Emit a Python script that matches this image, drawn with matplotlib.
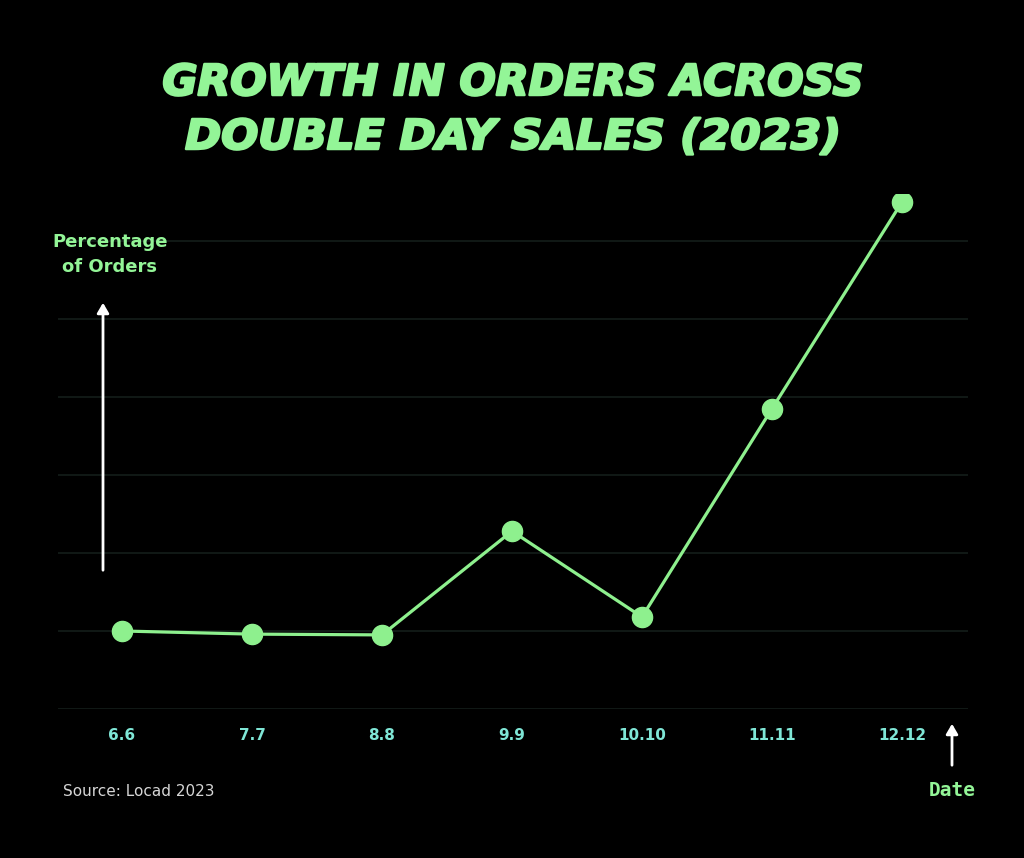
import numpy as np
import matplotlib
matplotlib.use("Agg")
import matplotlib.pyplot as plt
from matplotlib.textpath import TextPath
from matplotlib.font_manager import FontProperties
from matplotlib.patches import PathPatch, FancyArrowPatch
from matplotlib.transforms import Affine2D

# data (unitless scale: one gridline = 1)
dates = ["6.6", "7.7", "8.8", "9.9", "10.10", "11.11", "12.12"]
orders = [1.0, 0.96, 0.95, 2.28, 1.18, 3.85, 6.5]
title_lines = ["GROWTH IN ORDERS ACROSS", "DOUBLE DAY SALES (2023)"]

BG = "#000000"
GREEN = "#93f597"
LINE = "#8ef08e"
TICK = "#7fe6d6"
GRID = "#141d1a"

W, H = 1024, 858
fig = plt.figure(figsize=(W / 100, H / 100), dpi=100, facecolor=BG)

# overlay axes in pixel coords (y up) for the title paths
ov = fig.add_axes([0, 0, 1, 1])
ov.set_xlim(0, W)
ov.set_ylim(0, H)
ov.axis("off")

# axes placed in pixel coords
x0, x1 = 58, 968
y_bot, y_top = 709, 194
ax = fig.add_axes([x0 / W, 1 - y_bot / H, (x1 - x0) / W, (y_bot - y_top) / H])
ax.set_facecolor(BG)

xs = np.arange(len(dates))
ax.plot(xs, orders, color=LINE, lw=2.3, marker="o", ms=14.5,
        mfc=LINE, mec=LINE, zorder=3)

ax.set_xlim(-64 / 130, 6 + 66 / 130)
ax.set_ylim(0, (y_bot - y_top) / 78)
ax.set_yticks(np.arange(0, 7))
ax.yaxis.grid(True, color=GRID, lw=1.2)
ax.set_axisbelow(True)
ax.tick_params(axis="y", left=False, labelleft=False)
ax.set_xticks(xs)
ax.set_xticklabels(dates, color=TICK, fontsize=11, fontweight="semibold")
ax.tick_params(axis="x", bottom=False, pad=10)
for s in ax.spines.values():
    s.set_visible(False)

# title: condensed heavy italic, drawn as stretched text paths
fp = FontProperties(family="DejaVu Sans", weight="heavy", style="italic")
cap = TextPath((0, 0), "H", size=100, prop=fp).get_extents().height
boxes = [(164, 861, 95, 31), (186, 837, 149, 30)]  # left, right, baseline, cap height (px)
for txt, (l, r, base, ch) in zip(title_lines, boxes):
    tp = TextPath((0, 0), txt, size=100, prop=fp)
    ext = tp.get_extents()
    sx = (r - l) / ext.width
    sy = ch / cap
    tr = Affine2D().translate(-ext.x0, 0).scale(sx, sy).translate(l, H - base)
    ov.add_patch(PathPatch(tr.transform_path(tp), fc=GREEN, ec=GREEN, lw=1.8,
                           joinstyle="round"))

# y label + arrow
fig.text(110 / W, 1 - 254 / H, "Percentage\nof Orders", ha="center", va="center",
         color=GREEN, fontsize=13, fontweight="semibold", linespacing=1.5)
fig.add_artist(FancyArrowPatch(
    (103 / W, 1 - 573 / H), (103 / W, 1 - 300 / H), transform=fig.transFigure,
    arrowstyle="-|>,head_length=6,head_width=3.5", color="white", lw=2))

# x label + arrow
fig.add_artist(FancyArrowPatch(
    (952 / W, 1 - 768 / H), (952 / W, 1 - 721 / H), transform=fig.transFigure,
    arrowstyle="-|>,head_length=6,head_width=3.5", color="white", lw=2))
fig.text(952 / W, 1 - 790 / H, "Date", ha="center", va="center",
         color=GREEN, fontsize=14, fontweight="bold", family="DejaVu Sans Mono")

fig.text(63 / W, 1 - 791 / H, "Source: Locad 2023", ha="left", va="center",
         color="#d6d6d6", fontsize=11)

fig.savefig("out.png", dpi=100, facecolor=BG)
